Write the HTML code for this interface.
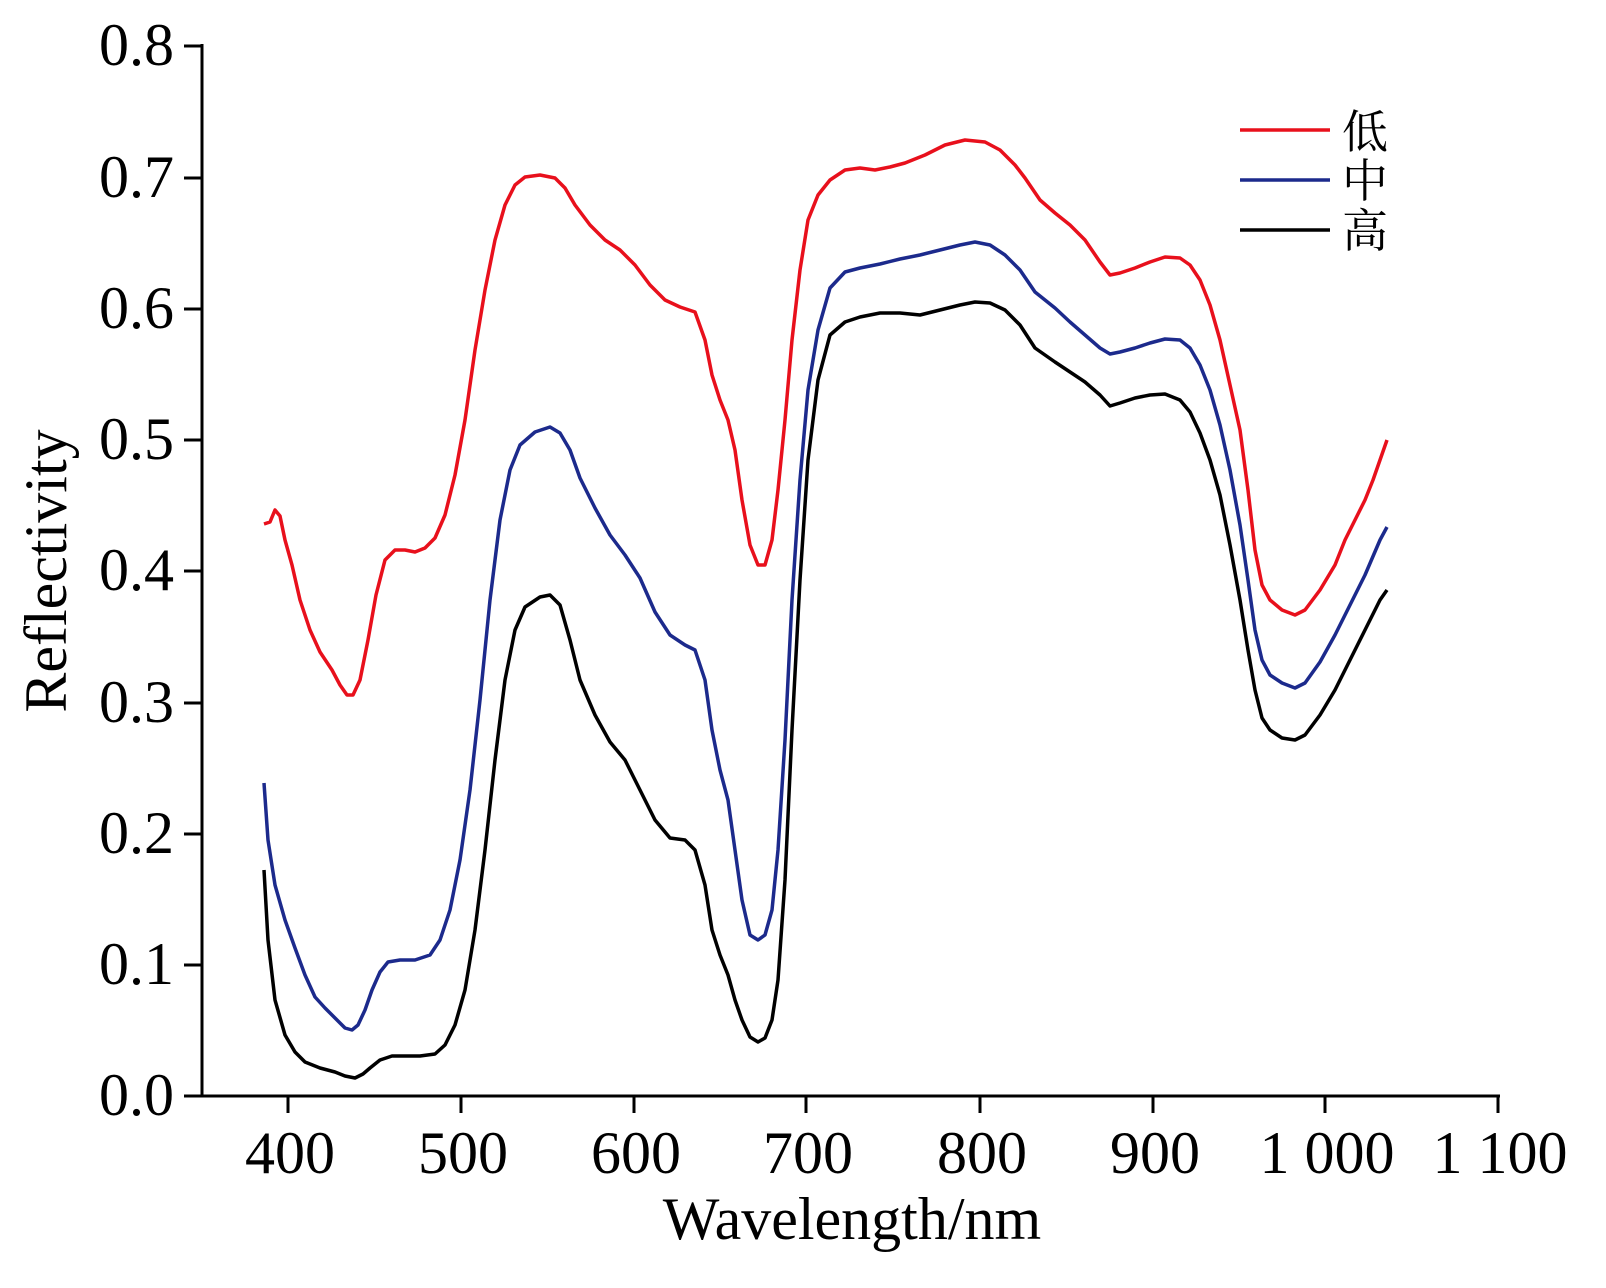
<!DOCTYPE html>
<html><head><meta charset="utf-8"><style>
html,body{margin:0;padding:0;background:#fff;}
svg{display:block;}
text{font-family:"Liberation Serif","Noto Serif CJK SC",serif;fill:#000;}
</style></head><body>
<svg width="1606" height="1288" viewBox="0 0 1606 1288">
<g stroke="#000" stroke-width="3" fill="none">
<line x1="202" y1="44" x2="202" y2="1097"/>
<line x1="200" y1="1096" x2="1500" y2="1096"/>
<line x1="184" y1="46" x2="202" y2="46"/>
<line x1="184" y1="178" x2="202" y2="178"/>
<line x1="184" y1="309" x2="202" y2="309"/>
<line x1="184" y1="440" x2="202" y2="440"/>
<line x1="184" y1="571" x2="202" y2="571"/>
<line x1="184" y1="703" x2="202" y2="703"/>
<line x1="184" y1="834" x2="202" y2="834"/>
<line x1="184" y1="965" x2="202" y2="965"/>
<line x1="184" y1="1096" x2="202" y2="1096"/>
<line x1="288" y1="1096" x2="288" y2="1113"/>
<line x1="461" y1="1096" x2="461" y2="1113"/>
<line x1="634" y1="1096" x2="634" y2="1113"/>
<line x1="806" y1="1096" x2="806" y2="1113"/>
<line x1="980" y1="1096" x2="980" y2="1113"/>
<line x1="1153" y1="1096" x2="1153" y2="1113"/>
<line x1="1325" y1="1096" x2="1325" y2="1113"/>
<line x1="1498" y1="1096" x2="1498" y2="1113"/>
</g>
<g font-size="60" text-anchor="end">
<text x="174" y="65">0.8</text>
<text x="174" y="197">0.7</text>
<text x="174" y="328">0.6</text>
<text x="174" y="459">0.5</text>
<text x="174" y="590">0.4</text>
<text x="174" y="722">0.3</text>
<text x="174" y="853">0.2</text>
<text x="174" y="984">0.1</text>
<text x="174" y="1115">0.0</text>
</g>
<g font-size="60" text-anchor="middle">
<text x="290" y="1173">400</text>
<text x="463" y="1173">500</text>
<text x="636" y="1173">600</text>
<text x="808" y="1173">700</text>
<text x="982" y="1173">800</text>
<text x="1155" y="1173">900</text>
<text x="1327" y="1173">1 000</text>
<text x="1500" y="1173">1 100</text>
<text x="852" y="1239">Wavelength/nm</text>
<text transform="translate(66,571) rotate(-90)">Reflectivity</text>
</g>
<g fill="none" stroke-width="3.5" stroke-linejoin="round">
<polyline stroke="#e8101c" points="264,524 270,522 275,510 280,516 285,540 292,565 300,600 310,630 320,652 332,670 340,685 347,695 353,695 360,680 368,640 376,595 385,560 395,550 405,550 415,552 425,548 435,538 445,515 455,475 465,420 475,350 485,290 495,240 505,205 515,185 525,177 540,175 555,178 565,188 575,205 590,225 605,240 620,250 635,265 650,285 665,300 680,307 695,312 705,340 712,375 720,400 728,420 735,450 742,500 750,545 758,565 765,565 772,540 778,490 785,420 792,340 800,270 808,220 818,195 830,180 845,170 860,168 875,170 890,167 905,163 925,155 945,145 965,140 985,142 1000,150 1015,165 1025,178 1040,200 1055,213 1070,225 1085,240 1100,262 1110,275 1120,273 1135,268 1150,262 1165,257 1180,258 1190,265 1200,280 1210,305 1220,340 1230,385 1240,430 1248,490 1255,550 1262,585 1270,600 1282,610 1295,615 1305,610 1320,590 1335,565 1345,540 1355,520 1365,500 1373,480 1380,460 1387,440"/>
<polyline stroke="#1c2a8c" points="264,783 268,840 275,885 285,920 295,948 305,975 315,997 325,1008 335,1018 345,1028 352,1030 358,1025 365,1010 372,990 380,972 388,962 400,960 415,960 430,955 440,940 450,910 460,860 470,790 480,700 490,600 500,520 510,470 520,445 535,432 550,427 560,433 570,450 580,478 595,508 610,535 625,555 640,578 655,612 670,635 685,645 695,650 705,680 712,730 720,770 728,800 735,850 742,900 750,935 758,940 765,935 772,910 778,850 785,740 792,600 800,480 808,390 818,330 830,288 845,272 860,268 880,264 900,259 920,255 940,250 960,245 975,242 990,245 1005,255 1020,270 1035,292 1055,308 1070,322 1085,335 1100,348 1110,354 1120,352 1135,348 1150,343 1165,339 1180,340 1190,348 1200,365 1210,390 1220,425 1230,470 1240,525 1248,580 1255,630 1262,660 1270,675 1282,683 1295,688 1305,683 1320,662 1335,635 1350,605 1365,575 1380,540 1387,527"/>
<polyline stroke="#000" points="264,870 268,940 275,1000 285,1035 295,1052 305,1062 320,1068 335,1072 345,1076 355,1078 363,1074 370,1068 380,1060 392,1056 405,1056 420,1056 435,1054 445,1045 455,1025 465,990 475,930 485,850 495,760 505,680 515,630 525,607 540,597 550,595 560,605 570,640 580,680 595,715 610,742 625,760 640,790 655,820 670,838 685,840 695,850 705,885 712,930 720,955 728,975 735,1000 742,1020 750,1037 758,1042 765,1038 772,1020 778,980 785,880 792,730 800,580 808,460 818,380 830,335 845,322 860,317 880,313 900,313 920,315 940,310 960,305 975,302 990,303 1005,310 1020,325 1035,348 1055,362 1070,372 1085,382 1100,395 1110,406 1120,403 1135,398 1150,395 1165,394 1180,400 1190,412 1200,433 1210,460 1220,495 1230,545 1240,600 1248,650 1255,690 1262,718 1270,730 1282,738 1295,740 1305,735 1320,715 1335,690 1350,660 1365,630 1380,600 1387,590"/>
<line x1="1240" y1="130" x2="1330" y2="130" stroke="#e8101c"/>
<line x1="1240" y1="180" x2="1330" y2="180" stroke="#1c2a8c"/>
<line x1="1240" y1="230" x2="1330" y2="230" stroke="#000"/>
</g>
<g font-size="46">
<text x="1342" y="148">低</text>
<text x="1342" y="197">中</text>
<text x="1342" y="247">高</text>
</g>
</svg>
</body></html>
